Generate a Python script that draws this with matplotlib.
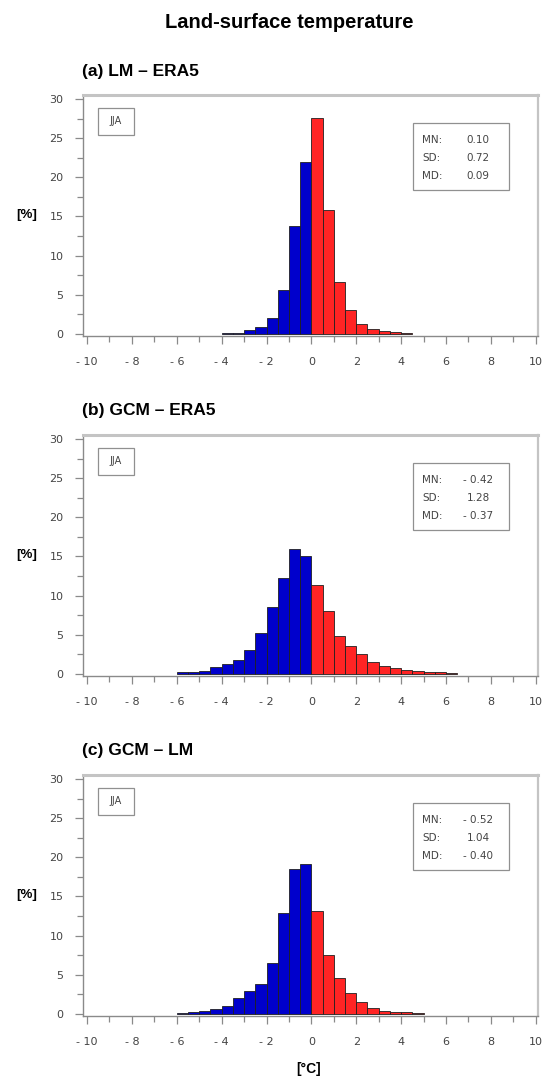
import numpy as np
import matplotlib
matplotlib.use("Agg")
import matplotlib.pyplot as plt
from matplotlib.patches import Rectangle

# bin width of the histograms (degC) and first bin edge of each panel
bin_width = 0.5

# panel (a) LM - ERA5
a_start = -4.0
a_heights = [0.1, 0.15, 0.5, 0.85, 2.0, 5.6, 13.8, 21.9,
             27.6, 15.8, 6.6, 3.0, 1.3, 0.65, 0.4, 0.25, 0.12]
a_stats = ["0.10", "0.72", "0.09"]

# panel (b) GCM - ERA5
b_start = -6.0
b_heights = [0.2, 0.3, 0.4, 0.85, 1.3, 1.8, 3.0, 5.2, 8.5, 12.2, 16.0, 15.0,
             11.4, 8.0, 4.85, 3.6, 2.5, 1.5, 1.05, 0.7, 0.5, 0.35, 0.3, 0.2, 0.15]
b_stats = ["- 0.42", "1.28", "- 0.37"]

# panel (c) GCM - LM
c_start = -6.0
c_heights = [0.15, 0.25, 0.4, 0.6, 1.05, 2.0, 2.9, 3.8, 6.55, 12.9, 18.5, 19.1,
             13.1, 7.55, 4.6, 2.7, 1.5, 0.75, 0.35, 0.3, 0.2, 0.1]
c_stats = ["- 0.52", "1.04", "- 0.40"]

titles = ["(a) LM \u2013 ERA5", "(b) GCM \u2013 ERA5", "(c) GCM \u2013 LM"]
stat_names = ["MN:", "SD:", "MD:"]
x_ticks = [-10, -8, -6, -4, -2, 0, 2, 4, 6, 8, 10]
x_tick_labels = ["- 10", "- 8", "- 6", "- 4", "- 2", "0", "2", "4", "6", "8", "10"]
y_ticks = [0, 5, 10, 15, 20, 25, 30]

W, H = 544, 1084
fig = plt.figure(figsize=(W / 100, H / 100), dpi=100)


def fx(px):
    return px / W


def fy(py):
    return 1 - py / H


blue = "#0000cc"
red = "#ff2424"
frame_col = "#c4c4c4"
tick_col = "#8a8a8a"
text_col = "#444444"

fig.text(fx(289), fy(22), "Land-surface temperature", ha="center", va="center",
         fontsize=14.5, fontweight="bold", family="Liberation Sans")

panels = [(a_start, a_heights, a_stats), (b_start, b_heights, b_stats),
          (c_start, c_heights, c_stats)]
tops = [95, 435, 775]
ax_h = 241

for i, (start, heights, stats) in enumerate(panels):
    top = tops[i]
    ax = fig.add_axes([fx(83), fy(top + ax_h), fx(538) - fx(83), ax_h / H])
    heights = np.array(heights)
    lefts = start + bin_width * np.arange(len(heights))
    colors = [blue if l < 0 else red for l in lefts]
    ax.bar(lefts, heights, width=bin_width, align="edge", color=colors,
           edgecolor="#202020", linewidth=0.6, zorder=2)

    ax.set_xlim(-10.18, 10.1)
    ax.set_ylim(-0.26, 30.51)
    ax.set_xticks(x_ticks)
    ax.set_xticklabels(x_tick_labels)
    ax.set_xticks(np.arange(-9, 10, 2), minor=True)
    ax.set_yticks(y_ticks)
    ax.set_yticks(np.arange(2.5, 30, 5), minor=True)
    ax.tick_params(axis="both", which="major", colors=tick_col, labelcolor=text_col,
                   labelsize=8, length=6, width=0.9)
    ax.tick_params(axis="both", which="minor", colors=tick_col, length=4, width=0.9)
    ax.tick_params(axis="x", which="major", pad=9)
    ax.tick_params(axis="y", which="major", pad=8)

    for s in ["left", "bottom"]:
        ax.spines[s].set_color(tick_col)
        ax.spines[s].set_linewidth(1.0)
    ax.spines["top"].set_color(frame_col)
    ax.spines["top"].set_linewidth(2.2)
    ax.spines["right"].set_color(frame_col)
    ax.spines["right"].set_linewidth(1.6)

    # season box
    ax.add_patch(Rectangle((fx(98), fy(top + 40)), fx(36), 27 / H,
                           transform=fig.transFigure, fill=False,
                           edgecolor="#909090", linewidth=0.9))
    fig.text(fx(116), fy(top + 26.5), "JJA", ha="center", va="center",
             fontsize=7, color=text_col)

    # statistics box
    ax.add_patch(Rectangle((fx(413), fy(top + 95)), fx(96), 67 / H,
                           transform=fig.transFigure, fill=False,
                           edgecolor="#909090", linewidth=0.9))
    for k in range(3):
        yy = top + 45 + 18 * k
        fig.text(fx(422), fy(yy), stat_names[k], ha="left", va="center",
                 fontsize=7.5, color=text_col)
        fig.text(fx(478), fy(yy), stats[k], ha="center", va="center",
                 fontsize=7.5, color=text_col)

    fig.text(fx(82), fy(top - 24), titles[i], ha="left", va="center",
             fontsize=12.5, fontweight="bold", family="Liberation Sans")
    fig.text(fx(27), fy(top + 120), "[%]", ha="center", va="center",
             fontsize=9.5, fontweight="bold", family="Liberation Sans")

fig.text(fx(309), fy(1069), "[\u00b0C]", ha="center", va="center",
         fontsize=10, fontweight="bold", family="Liberation Sans")

fig.savefig("out.png", dpi=100)
